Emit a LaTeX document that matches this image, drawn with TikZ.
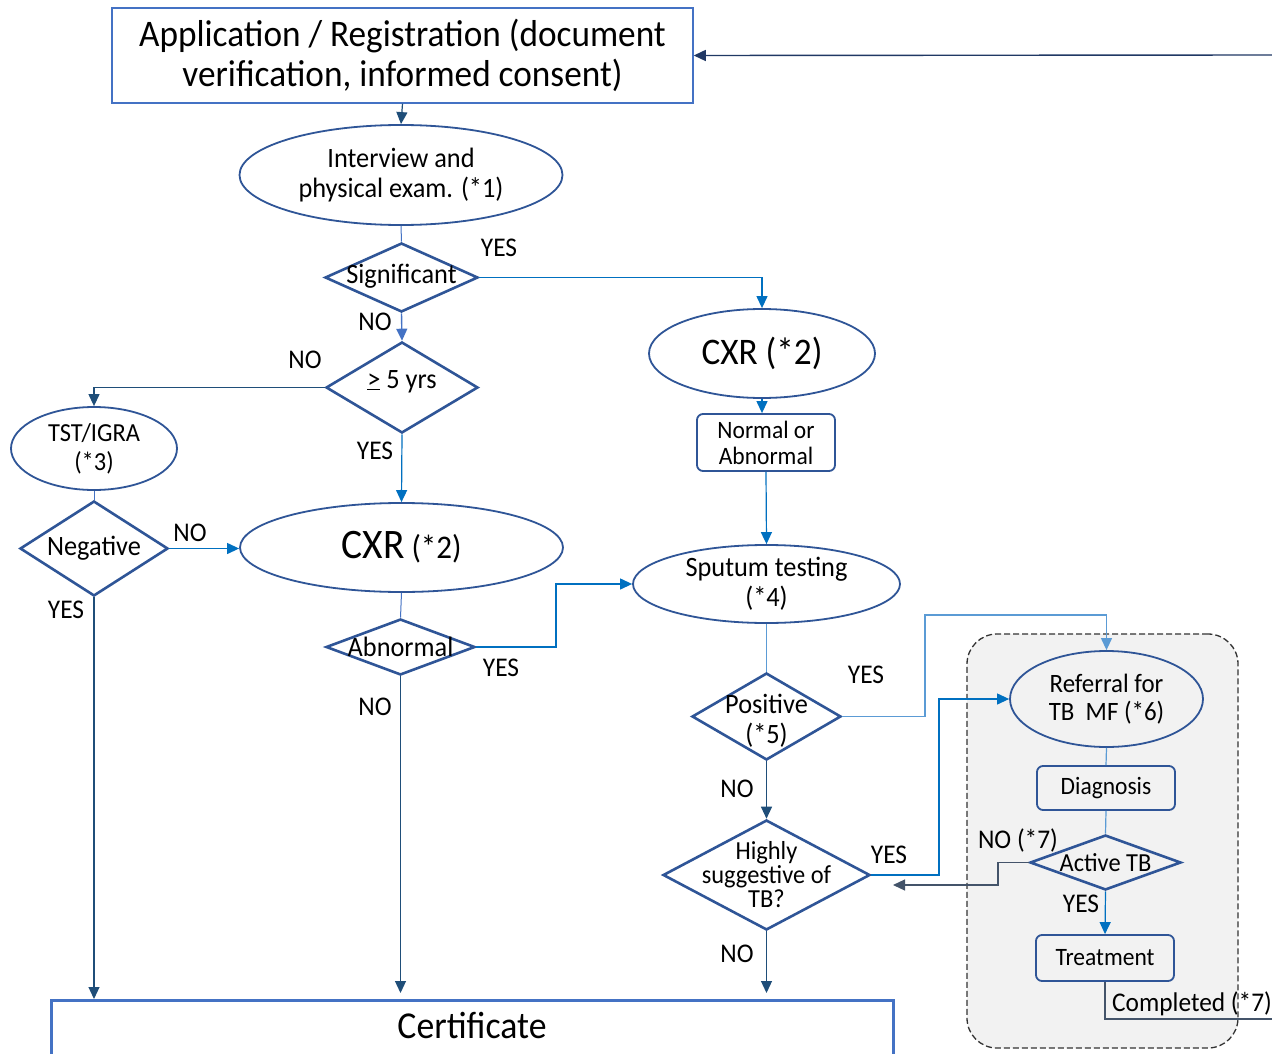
\documentclass[tikz,border=0pt]{standalone}
\usepackage{fontspec}
\setmainfont{Carlito}[FakeStretch=0.94]
\usetikzlibrary{shapes.geometric,arrows.meta,calc}
\definecolor{nodeblue}{HTML}{2F5597}
\definecolor{boxblue}{HTML}{4472C4}
\definecolor{darkarrow}{HTML}{1F4E79}
\definecolor{navyarrow}{HTML}{203864}
\definecolor{lightarrow}{HTML}{0070C0}
\definecolor{paleline}{HTML}{5B9BD5}
\definecolor{grayarrow}{HTML}{44546A}
\definecolor{panelgray}{HTML}{F2F2F2}
\newcommand{\fsz}[2]{\fontsize{#1}{#2}\selectfont}
\tikzset{
  tip/.style={-{Triangle[length=12pt,width=11pt]}},
  ell/.style={ellipse, draw=nodeblue, line width=1.8pt, inner sep=-6pt, align=center, font=\fsz{28}{30}},
  dia/.style={diamond, draw=nodeblue, line width=2.6pt, inner sep=0pt},
  dtxt/.style={font=\fsz{28}{30}, align=center, inner sep=0pt},
  rbox/.style={rectangle, rounded corners=6pt, draw=nodeblue, line width=1.8pt, inner sep=0pt, align=center, font=\fsz{25}{26}},
  lbl/.style={font=\fsz{27}{30}, inner sep=0pt},
  arrdark/.style={draw=darkarrow, line width=1.2pt, tip},
  arrnavy/.style={draw=navyarrow, line width=1.4pt, tip},
  arrlight/.style={draw=lightarrow, line width=1.2pt, tip},
  arrmid/.style={draw=boxblue, line width=1.4pt, tip},
  arrgray/.style={draw=grayarrow, line width=1.2pt, tip},
  linkthin/.style={draw=boxblue, line width=1pt},
  linkpale/.style={draw=paleline, line width=1.2pt},
  linkgray/.style={draw=grayarrow, line width=1.2pt},
}
\begin{document}
\begin{tikzpicture}[x=1pt,y=-1pt]
\useasboundingbox (0,0) rectangle (1272,1054);
\fill[white] (0,0) rectangle (1272,1054);

% panel
\node[draw=black!80, dashed, dash pattern=on 6pt off 3pt, line width=1.3pt, fill=panelgray,
      rounded corners=30pt, minimum width=271, minimum height=414, inner sep=0pt] (panel) at (1102.5,841) {};

% nodes
\node[draw=boxblue, line width=1.5pt, minimum width=581, minimum height=95, inner sep=0pt,
      align=center, font=\fsz{37.5}{40}] (app) at (402.5,55.5) {Application / Registration (document\\verification, informed consent)};
\node[ell, minimum width=323, minimum height=100] (int) at (401,175) {Interview and\\physical exam. (*1)};
\node[dia, minimum width=153, minimum height=69, label={[dtxt,yshift=1pt]center:Significant}] (sig) at (401.5,277.5) {};
\node[dia, minimum width=152, minimum height=91, label={[dtxt,yshift=6pt]center:\underline{>} 5 yrs}] (five) at (402,387.5) {};
\node[ell, minimum width=166, minimum height=83, font=\fsz{26}{29}] (tst) at (94,448.5) {TST/IGRA\\(*3)};
\node[dia, minimum width=148, minimum height=95, label={[dtxt]center:Negative}] (neg) at (94,548.5) {};
\node[ell, minimum width=323, minimum height=89, font=\fsz{33}{36}] (cxra) at (401.5,547.5) {{\fsz{42}{44}CXR} (*2)};
\node[dia, minimum width=149, minimum height=56, label={[dtxt]center:Abnormal}] (abn) at (400.5,647) {};
\node[ell, minimum width=226, minimum height=89, font=\fsz{37.5}{40}] (cxrb) at (762,353.5) {CXR (*2)};
\node[rbox, minimum width=138, minimum height=57] (nrm) at (766,442.5) {Normal or\\Abnormal};
\node[ell, minimum width=267, minimum height=78] (spt) at (766.5,584) {Sputum testing\\(*4)};
\node[dia, minimum width=149, minimum height=87, label={[dtxt,yshift=-4pt]center:Positive\\(*5)}] (pos) at (766.5,716.5) {};
\node[dia, minimum width=207, minimum height=110, label={[dtxt,font=\fsz{26}{24}]center:Highly\\suggestive of\\TB?}] (hig) at (766.5,875) {};
\node[ell, minimum width=193, minimum height=96, font=\fsz{26.5}{28}] (ref) at (1106.5,699) {Referral for\\TB\ \ MF (*6)};
\node[rbox, minimum width=138, minimum height=44] (dgn) at (1106,788) {Diagnosis};
\node[dia, minimum width=151, minimum height=55, label={[dtxt,font=\fsz{26}{28}]center:Active TB}] (act) at (1105.5,862.5) {};
\node[rbox, minimum width=138, minimum height=46] (trt) at (1105,958) {Treatment};
\node[draw=boxblue, line width=3pt, anchor=north, minimum width=842, minimum height=60, inner sep=0pt,
      font=\fsz{38}{40}, text height=23pt, text depth=7pt] (cert) at (472,999) {Certificate};

% labels
\node[lbl] (l1) at (499,248) {YES};
\node[lbl] (l2) at (375,322) {NO};
\node[lbl] (l3) at (305,360) {NO};
\node[lbl] (l4) at (375,451) {YES};
\node[lbl] (l5) at (190,533) {NO};
\node[lbl] (l6) at (66,610) {YES};
\node[lbl] (l7) at (501,668) {YES};
\node[lbl] (l8) at (375,707) {NO};
\node[lbl] (l9) at (866,675) {YES};
\node[lbl] (l10) at (737,789) {NO};
\node[lbl] (l11) at (889,855) {YES};
\node[lbl] (l12) at (737,954) {NO};
\node[lbl] (l13) at (1018,840) {NO (*7)};
\node[lbl] (l14) at (1081,904) {YES};
\node[lbl, anchor=west] (l15) at (1112,1004) {Completed (*7)};

% bend points and free ends
\coordinate (b1) at (556,647);
\coordinate (b2) at (925,615);
\coordinate (b3) at (939,699);
\coordinate (b4) at (998,885);
\coordinate (e1) at (893,885);
\coordinate (e2) at (1272,1019);
\coordinate (e3) at (1272,55);

% connectors
\draw[arrdark] (app.south) -- (int.north);
\draw[linkthin] (int.south) -- (sig.north);
\draw[arrlight] (sig.east) -| (cxrb.north);
\draw[arrmid] (sig.south) -- (five.north);
\draw[arrdark] (five.west) -| (tst.north);
\draw[arrlight] (five.south) -- (cxra.north);
\draw[linkthin] (tst.south) -- (neg.north);
\draw[arrlight] (neg.east) -- (neg.east -| cxra.west);
\draw[arrdark] (neg.south) -- (neg.south |- cert.north);
\draw[linkthin] (cxra.south) -- (abn.north);
\draw[arrlight] (abn.east) -- (b1) |- (spt.west);
\draw[arrdark] (abn.south) -- ([yshift=6pt]abn.south |- cert.north);
\draw[arrlight] (cxrb.south) -- (cxrb.south |- nrm.north);
\draw[arrlight] (nrm.south) -- (spt.north);
\draw[linkpale] (spt.south) -- (pos.north);
\draw[linkpale, tip] (pos.east) -| (b2) -| (ref.north);
\draw[arrdark] (pos.south) -- (hig.north);
\draw[arrlight] (hig.east) -| (b3) -- (ref.west);
\draw[arrdark] (hig.south) -- ([yshift=6pt]hig.south |- cert.north);
\draw[linkpale] (ref.south) -- (dgn.north);
\draw[linkpale] (dgn.south) -- (act.north);
\draw[arrgray] (act.west) -| (b4) -- (e1);
\draw[arrlight] (act.south) -- (trt.north);
\draw[linkgray] (trt.south) |- (e2);
\draw[arrnavy] (e3) -- (app.east);
\end{tikzpicture}
\end{document}
